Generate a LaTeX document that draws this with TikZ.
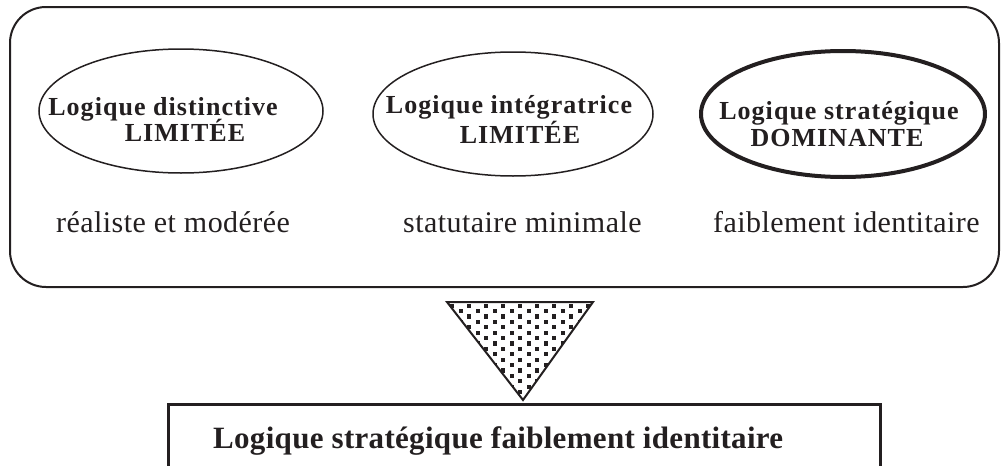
\documentclass[tikz,border=0pt]{standalone}
\usepackage{fontspec}
\setmainfont{Liberation Serif}
\usetikzlibrary{shapes.geometric}
\definecolor{ink}{HTML}{231F20}
\begin{document}
\begin{tikzpicture}[x=1pt,y=-1pt,
  oval/.style={draw=ink,ellipse,line width=1.5pt,minimum width=284pt,minimum height=124pt,inner sep=0pt},
  ovalthick/.style={oval,line width=4pt},
  ovtext/.style={text=ink,anchor=base,inner sep=0pt,font=\fontsize{26}{28}\selectfont\bfseries\addfontfeature{LetterSpace=4}},
  lowtext/.style={text=ink,anchor=base west,inner sep=0pt,font=\fontsize{30}{33}\selectfont\addfontfeature{LetterSpace=1.5}},
  bigtext/.style={text=ink,anchor=base west,inner sep=0pt,font=\fontsize{31}{34}\selectfont\bfseries\addfontfeature{LetterSpace=1}}]
\useasboundingbox (0,0) rectangle (1005,466);
% frame
\draw[ink,line width=2pt,rounded corners=36pt] (10,7) rectangle (999,287);
% ovals
\node[oval] (e1) at (181,111) {};
\node[oval,minimum width=280pt] (e2) at (513,114) {};
\node[ovalthick,minimum width=284pt,minimum height=126pt] (e3) at (843,114) {};
\node[ovtext] (e1a) at (163,115) {Logique distinctive};
\node[ovtext] (e1b) at (185,141) {LIMITÉE};
\node[ovtext] (e2a) at (509,113) {Logique intégratrice};
\node[ovtext] (e2b) at (520,143) {LIMITÉE};
\node[ovtext] (e3a) at (839,119) {Logique stratégique};
\node[ovtext] (e3b) at (837,146) {DOMINANTE};
% lower labels
\node[lowtext] (l1) at (56,232) {réaliste et modérée};
\node[lowtext] (l2) at (403,232) {statutaire minimale};
\node[lowtext] (l3) at (713,232) {faiblement identitaire};
% triangle
\coordinate (tl) at (447,302);
\coordinate (tr) at (593,302);
\coordinate (ap) at (523,400);
\begin{scope}
\clip (tl) -- (tr) -- (ap) -- cycle;
\foreach \j in {0,...,19}{
  \pgfmathsetmacro\yy{303.5+\j*5.4}
  \pgfmathsetmacro\xo{mod(\j,2)*8.5}
  \foreach \i in {0,...,9}{
    \fill[ink] ({450+\xo+\i*17},\yy) rectangle ++(4.2,4.2);
  }
}
\end{scope}
\draw[ink,line width=2pt,line join=miter] (tl) -- (tr) -- (ap) -- cycle;
% result box
\coordinate (bl) at (168,480);
\coordinate (br) at (880,480);
\draw[ink,line width=3pt] (bl) |- (880,404) -- (br);
\node[bigtext] (res) at (213,448) {Logique stratégique faiblement identitaire};
\end{tikzpicture}
\end{document}
